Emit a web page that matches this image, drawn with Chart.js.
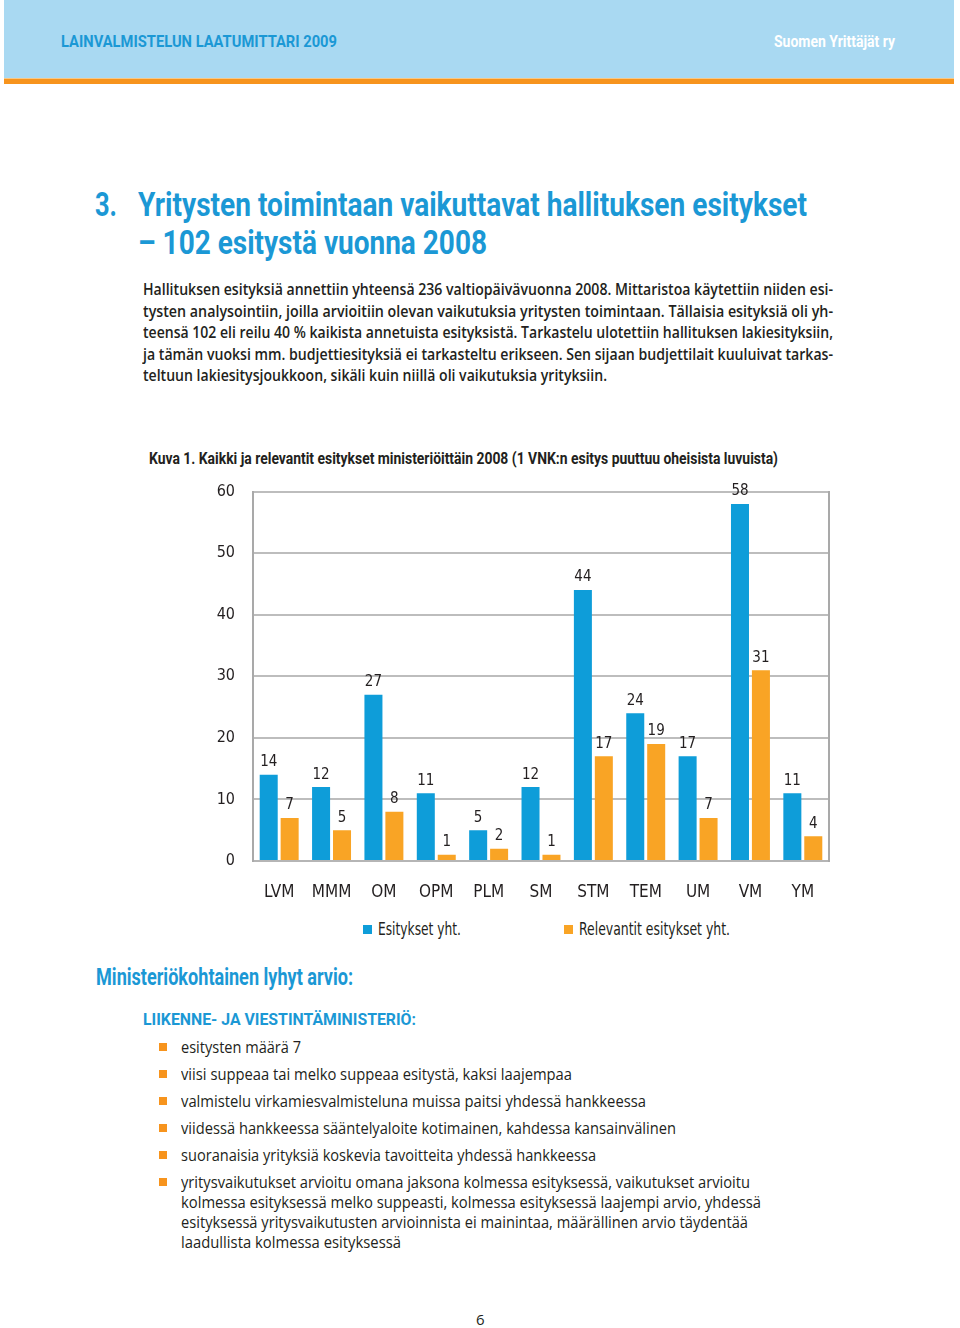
<!DOCTYPE html>
<html lang="fi">
<head>
<meta charset="utf-8">
<script src="https://cdn.jsdelivr.net/npm/chart.js@4.4.0/dist/chart.umd.min.js"></script>
<style>
  html, body { margin: 0; padding: 0; background: #fff; }
  body { width: 960px; height: 1328px; position: relative; overflow: hidden; font-family: "Open Sans", "DejaVu Sans", sans-serif; color: #231f20; }
  .abs { position: absolute; white-space: nowrap; transform-origin: left top; }
  .head { left: 4px; top: 0; width: 950px; height: 78px; background: #a9d9f2; }
  .stripe { left: 4px; top: 78px; width: 950px; height: 6px; background: #f7941d; border-top: 1px solid #f6c98a; box-sizing: border-box; }
  .hd { font-family: Roboto, "DejaVu Sans Condensed", sans-serif; font-weight: bold; }
  .blue { color: #1b98d5; }
  .para { font-family: "Open Sans", sans-serif; font-weight: 600; font-size: 15.5px; }
  .txt { font-family: "Open Sans", sans-serif; font-size: 16px; }
  .sq { position: absolute; width: 8px; height: 8px; background: #f7941d; }
</style>
</head>
<body>
<div class="abs head"></div>
<div class="abs stripe"></div>
<div class="abs hd blue" style="left:61px; top:31px; font-size:17px;" data-w="276">LAINVALMISTELUN LAATUMITTARI 2009</div>
<div class="abs hd" style="left:774px; top:31px; font-size:17px; color:#fff;" data-w="121">Suomen Yrittäjät ry</div>

<div class="abs hd blue" style="left:95px; top:185px; font-size:33px;" data-w="22">3.</div>
<div class="abs hd blue" style="left:138px; top:185px; font-size:33px;" data-w="669">Yritysten toimintaan vaikuttavat hallituksen esitykset</div>
<div class="abs hd blue" style="left:138px; top:223px; font-size:33px;" data-w="349">– 102 esitystä vuonna 2008</div>

<div class="abs para" style="left:143px; top:278px;" data-w="690">Hallituksen esityksiä annettiin yhteensä 236 valtiopäivävuonna 2008. Mittaristoa käytettiin niiden esi-</div>
<div class="abs para" style="left:143px; top:299.6px;" data-w="690">tysten analysointiin, joilla arvioitiin olevan vaikutuksia yritysten toimintaan. Tällaisia esityksiä oli yh-</div>
<div class="abs para" style="left:143px; top:321.2px;" data-w="690">teensä 102 eli reilu 40 % kaikista annetuista esityksistä. Tarkastelu ulotettiin hallituksen lakiesityksiin,</div>
<div class="abs para" style="left:143px; top:342.8px;" data-w="690">ja tämän vuoksi mm. budjettiesityksiä ei tarkasteltu erikseen. Sen sijaan budjettilait kuuluivat tarkas-</div>
<div class="abs para" style="left:143px; top:364.4px;" data-w="464">teltuun lakiesitysjoukkoon, sikäli kuin niillä oli vaikutuksia yrityksiin.</div>

<div class="abs hd" style="left:149px; top:448px; font-size:17px;" data-w="629">Kuva 1. Kaikki ja relevantit esitykset ministeriöittäin 2008 (1 VNK:n esitys puuttuu oheisista luvuista)</div>

<div class="abs" style="left:200px; top:464px; width:640px; height:446px;">
  <canvas id="barChart"></canvas>
</div>

<div class="sq" style="left:363px; top:925px; width:9px; height:9px; background:#0e9dd9;"></div>
<div class="abs" style="left:378px; top:919px; font-family:'DejaVu Sans Condensed'; font-size:17px;" data-w="83">Esitykset yht.</div>
<div class="sq" style="left:564px; top:925px; width:9px; height:9px; background:#f9a425;"></div>
<div class="abs" style="left:579px; top:919px; font-family:'DejaVu Sans Condensed'; font-size:17px;" data-w="151">Relevantit esitykset yht.</div>

<div class="abs hd blue" style="left:96px; top:964px; font-size:23px;" data-w="257">Ministeriökohtainen lyhyt arvio:</div>
<div class="abs hd blue" style="left:143px; top:1010px; font-size:16px;" data-w="273">LIIKENNE- JA VIESTINTÄMINISTERIÖ:</div>

<div class="sq" style="left:159px; top:1043px;"></div>
<div class="abs txt" style="left:181px; top:1036px;" data-w="120">esitysten määrä 7</div>
<div class="sq" style="left:159px; top:1070px;"></div>
<div class="abs txt" style="left:181px; top:1063px;" data-w="391">viisi suppeaa tai melko suppeaa esitystä, kaksi laajempaa</div>
<div class="sq" style="left:159px; top:1097px;"></div>
<div class="abs txt" style="left:181px; top:1090px;" data-w="465">valmistelu virkamiesvalmisteluna muissa paitsi yhdessä hankkeessa</div>
<div class="sq" style="left:159px; top:1124px;"></div>
<div class="abs txt" style="left:181px; top:1117px;" data-w="495">viidessä hankkeessa sääntelyaloite kotimainen, kahdessa kansainvälinen</div>
<div class="sq" style="left:159px; top:1151px;"></div>
<div class="abs txt" style="left:181px; top:1144px;" data-w="415">suoranaisia yrityksiä koskevia tavoitteita yhdessä hankkeessa</div>
<div class="sq" style="left:159px; top:1178px;"></div>
<div class="abs txt" style="left:181px; top:1171px;" data-w="569">yritysvaikutukset arvioitu omana jaksona kolmessa esityksessä, vaikutukset arvioitu</div>
<div class="abs txt" style="left:181px; top:1191px;" data-w="580">kolmessa esityksessä melko suppeasti, kolmessa esityksessä laajempi arvio, yhdessä</div>
<div class="abs txt" style="left:181px; top:1211px;" data-w="567">esityksessä yritysvaikutusten arvioinnista ei mainintaa, määrällinen arvio täydentää</div>
<div class="abs txt" style="left:181px; top:1231px;" data-w="220">laadullista kolmessa esityksessä</div>

<div class="abs" style="left:476px; top:1309px; font-size:15px;">6</div>

<script>
// data
const ministries = ['LVM', 'MMM', 'OM', 'OPM', 'PLM', 'SM', 'STM', 'TEM', 'UM', 'VM', 'YM'];
const allProposals = [14, 12, 27, 11, 5, 12, 44, 24, 17, 58, 11];
const relevantProposals = [7, 5, 8, 1, 2, 1, 17, 19, 7, 31, 4];
const yTicks = [0, 10, 20, 30, 40, 50, 60];

const labelFont = '"DejaVu Sans Condensed", sans-serif';

// squeeze text blocks to the widths of the printed page
document.querySelectorAll('[data-w]').forEach(el => {
    const w = el.getBoundingClientRect().width;
    el.style.transform = 'scaleX(' + (el.dataset.w / w) + ')';
});

// value labels above the bars
const valueLabels = {
    id: 'valueLabels',
    afterDatasetsDraw(chart) {
        const ctx = chart.ctx;
        ctx.save();
        ctx.font = '15px ' + labelFont;
        ctx.fillStyle = '#231f20';
        ctx.textAlign = 'center';
        ctx.textBaseline = 'bottom';
        chart.data.datasets.forEach((ds, i) => {
            chart.getDatasetMeta(i).data.forEach((bar, j) => {
                ctx.fillText(ds.data[j], bar.x, bar.y - 5);
            });
        });
        ctx.restore();
    }
};

const ctx = document.getElementById('barChart').getContext('2d');
const barChart = new Chart(ctx, {
    type: 'bar',
    data: {
        labels: ministries,
        datasets: [{
            label: 'Esitykset yht.',
            data: allProposals,
            backgroundColor: '#0e9dd9',
            borderWidth: 0,
            categoryPercentage: 0.8,
            barPercentage: 0.86
        }, {
            label: 'Relevantit esitykset yht.',
            data: relevantProposals,
            backgroundColor: '#f9a425',
            borderWidth: 0,
            categoryPercentage: 0.8,
            barPercentage: 0.86
        }]
    },
    options: {
        responsive: true,
        maintainAspectRatio: false,
        animation: false,
        layout: { padding: { top: 15, left: 0, right: 0, bottom: 0 } },
        plugins: {
            legend: { display: false },
            tooltip: { enabled: false }
        },
        scales: {
            x: {
                grid: { display: false },
                border: { color: '#b5b5b5', width: 2 },
                ticks: { color: '#231f20', padding: 13, font: { family: labelFont, size: 17 } },
                afterFit(scale) { scale.height = 49; }
            },
            y: {
                min: 0,
                max: 60,
                afterBuildTicks(scale) { scale.ticks = yTicks.map(v => ({ value: v })); },
                grid: { color: '#bdbdbd', lineWidth: 2, drawTicks: false },
                border: { color: '#a9a9a9', width: 2 },
                ticks: { color: '#231f20', padding: 18, font: { family: labelFont, size: 16 } },
                afterFit(scale) { scale.width = 53; }
            },
            y2: {
                position: 'right',
                min: 0,
                max: 60,
                grid: { display: false },
                border: { color: '#a9a9a9', width: 2 },
                ticks: { display: false },
                afterFit(scale) { scale.width = 11; }
            }
        }
    },
    plugins: [valueLabels]
});
</script>
</body>
</html>
